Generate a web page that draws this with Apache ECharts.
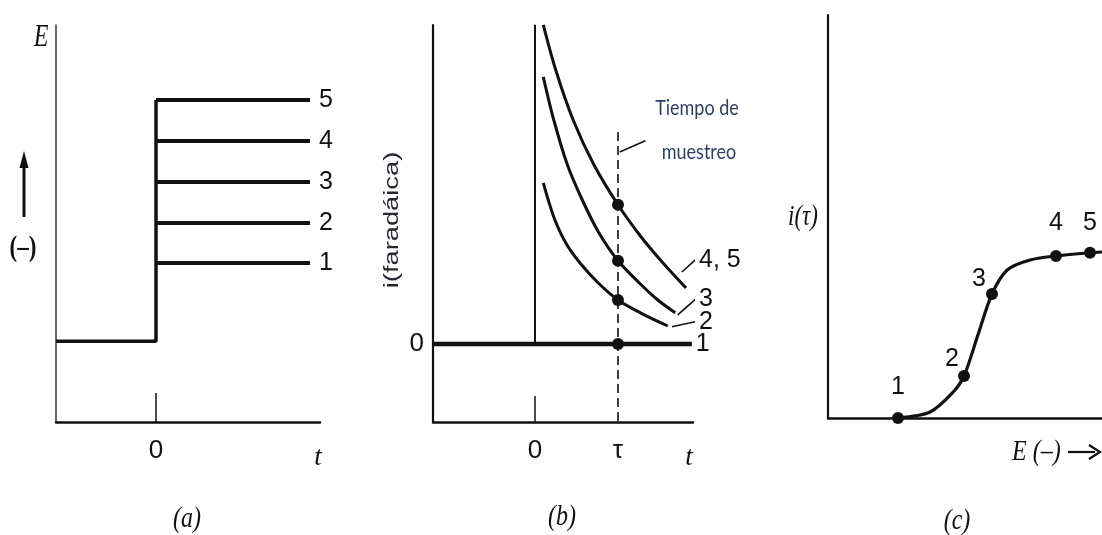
<!DOCTYPE html>
<html><head><meta charset="utf-8">
<script src="https://cdn.jsdelivr.net/npm/echarts@6/dist/echarts.min.js"></script>
<style>html,body{margin:0;padding:0;background:#fff}#c{width:1102px;height:535px}</style>
</head><body><div id="c"></div>
<script>
// ---------- Panel (a): potential steps E vs t ----------
const aStepNames = ['1', '2', '3', '4', '5'];
const aStepLevels = [3.94, 4.93, 5.94, 6.96, 7.97];
const aInitialPotential = 2.0;
const aTimeStart = -1.0;
const aTimeEnd = 1.54;
const aTickValues = [0];
const aTickLabels = ['0'];
const aAxisEndValue = 1.62;
const aAxisEndLabel = 't';

// ---------- Panel (b): faradaic current transients ----------
const bCurve45 = [[0.10, 7.98], [0.25, 6.85], [0.46, 5.60], [0.71, 4.48], [1.00, 3.48], [1.27, 2.70], [1.54, 2.03], [1.82, 1.40]];
const bCurve3  = [[0.10, 6.68], [0.22, 5.65], [0.39, 4.48], [0.57, 3.60], [0.77, 2.78], [1.00, 2.08], [1.27, 1.50], [1.48, 1.10], [1.69, 0.78]];
const bCurve2  = [[0.10, 4.03], [0.16, 3.60], [0.24, 3.10], [0.37, 2.53], [0.54, 2.03], [0.76, 1.53], [1.00, 1.10], [1.27, 0.78], [1.60, 0.45]];
const bCurve1  = [[-1.23, 0], [1.89, 0]];
const bCurveNames = ['4, 5', '3', '2', '1'];
const bSampleTime = 1.0;
const bSampleLabel = 'τ';
const bSampledCurrents = [3.48, 2.08, 1.10, 0];
const bStepTime = 0;
const bTop = 7.98;
const bLeader45 = [[1.77, 1.80], [2.13, 2.48]];
const bLeader3  = [[1.72, 0.73], [2.13, 1.48]];
const bLeader2  = [[1.65, 0.43], [2.13, 0.65]];
const bSampleLeader = [[1.02, 4.80], [1.33, 5.08]];
const bSampleLineRange = [5.30, -1.95];
const bAxisEndValue = 1.855;

// ---------- Panel (c): sampled current vs potential ----------
const cPotential = [1.75, 2.55, 3.13, 3.40, 3.75, 4.10, 4.48, 5.05, 5.70, 6.55, 6.85];
const cCurrent   = [0.00, 0.15, 0.65, 1.05, 2.08, 3.10, 3.70, 3.95, 4.05, 4.13, 4.15];
const cPointLabels = ['1', '2', '3', '4', '5'];
const cPointPotential = [1.75, 3.40, 4.10, 5.70, 6.55];
const cPointCurrent = [0.00, 1.05, 3.10, 4.05, 4.13];

// ---------- styling ----------
const INK = '#111';
const NUM_FONT = "'Liberation Sans Narrow', 'Liberation Sans', Arial, sans-serif";
const SERIF = "'Liberation Serif', 'Times New Roman', serif";
const NUM_SIZE = 25;

function plainLine(data, xi, width, extra) {
  return Object.assign({
    type: 'line', xAxisIndex: xi, yAxisIndex: xi, data: data,
    symbol: 'none', silent: true, animation: false,
    lineStyle: {color: INK, width: width}
  }, extra || {});
}
function endLab(text, dist) {
  return {show: true, formatter: text, distance: dist, color: INK,
          fontFamily: NUM_FONT, fontSize: NUM_SIZE};
}

const series = [];
// Panel a
series.push(plainLine([[aTimeStart, aInitialPotential], [0, aInitialPotential], [0, aStepLevels[aStepLevels.length - 1]]], 0, 3.5));
aStepLevels.forEach((lv, k) => {
  series.push(plainLine([[0, lv], [aTimeEnd, lv]], 0, 4, {name: aStepNames[k], endLabel: endLab(aStepNames[k], 9)}));
});
// Panel b
series.push(plainLine([[bStepTime, 0], [bStepTime, bTop]], 1, 2));
series.push(plainLine(bCurve1, 1, 4.5, {endLabel: endLab(bCurveNames[3], 4)}));
series.push(plainLine(bCurve45, 1, 3, {smooth: 0.3}));
series.push(plainLine(bCurve3, 1, 3, {smooth: 0.3}));
series.push(plainLine(bCurve2, 1, 3, {smooth: 0.3}));
series.push(plainLine([[bSampleTime, bSampleLineRange[0]], [bSampleTime, bSampleLineRange[1]]], 1, 1.6,
  {lineStyle: {color: INK, width: 1.6, type: [9, 5]}, clip: false}));
series.push(plainLine(bLeader45, 1, 1.6, {clip: false, endLabel: endLab(bCurveNames[0], 4)}));
series.push(plainLine(bLeader3, 1, 1.6, {clip: false, endLabel: endLab(bCurveNames[1], 4)}));
series.push(plainLine(bLeader2, 1, 1.6, {clip: false, endLabel: endLab(bCurveNames[2], 4)}));
series.push(plainLine(bSampleLeader, 1, 1.6, {clip: false}));
series.push({
  type: 'scatter', xAxisIndex: 1, yAxisIndex: 1, silent: true, animation: false,
  symbolSize: 12, itemStyle: {color: INK, opacity: 1},
  data: bSampledCurrents.map(v => [bSampleTime, v])
});
// Panel c
series.push(plainLine(cPotential.map((e, k) => [e, cCurrent[k]]), 2, 3.2, {smooth: 0.3}));
const cOffsets = [[0, -7], [-12, 7], [-13, 9], [0, -9], [0, -6]];
series.push({
  type: 'scatter', xAxisIndex: 2, yAxisIndex: 2, silent: true, animation: false,
  symbolSize: 12, itemStyle: {color: INK, opacity: 1},
  label: {show: true, position: 'top', distance: 5, color: INK, fontFamily: NUM_FONT, fontSize: NUM_SIZE},
  data: cPointLabels.map((lab, k) => ({
    value: [cPointPotential[k], cPointCurrent[k]],
    label: {formatter: lab, offset: cOffsets[k]}
  }))
});

const hideAll = {show: false};
const tickRich = {
  n: {fontFamily: NUM_FONT, fontSize: 26, color: INK},
  t: {fontFamily: SERIF, fontStyle: 'italic', fontSize: 27, color: INK, padding: [6, 0, 0, 0]}
};
const option = {
  backgroundColor: '#fff',
  animation: false,
  grid: [
    {left: 56, top: 25, width: 264, height: 397},
    {left: 433, top: 25, width: 260, height: 397},
    {left: 828, top: 15, width: 274, height: 403}
  ],
  xAxis: [
    {type: 'value', gridIndex: 0, min: -1, max: 1.64,
     axisLine: {onZero: false, lineStyle: {color: INK, width: 2.5}},
     axisTick: {show: true, inside: true, length: 29, customValues: aTickValues, lineStyle: {color: INK, width: 1.5}},
     axisLabel: {show: true, customValues: aTickValues.concat([aAxisEndValue]), margin: 16,
       formatter: v => v === aAxisEndValue ? '{t|' + aAxisEndLabel + '}' : '{n|' + aTickLabels[aTickValues.indexOf(v)] + '}',
       rich: tickRich},
     splitLine: hideAll},
    {type: 'value', gridIndex: 1, min: -1.229, max: 1.904,
     axisLine: {onZero: false, lineStyle: {color: INK, width: 2.5}},
     axisTick: {show: true, inside: true, length: 26, customValues: [bStepTime], lineStyle: {color: INK, width: 1.5}},
     axisLabel: {show: true, customValues: [bStepTime, bSampleTime, bAxisEndValue], margin: 16,
       formatter: v => v === bAxisEndValue ? '{t|t}' : (v === bSampleTime ? '{n|' + bSampleLabel + '}' : '{n|0}'),
       rich: tickRich},
     splitLine: hideAll},
    {type: 'value', gridIndex: 2, min: 0, max: 6.85,
     axisLine: {onZero: false, lineStyle: {color: INK, width: 2.5}},
     axisTick: hideAll, axisLabel: hideAll, splitLine: hideAll}
  ],
  yAxis: [
    {type: 'value', gridIndex: 0, min: 0, max: 9.83,
     axisLine: {show: true, onZero: false, lineStyle: {color: '#444', width: 1.6}},
     axisTick: hideAll, axisLabel: hideAll, splitLine: hideAll},
    {type: 'value', gridIndex: 1, min: -1.95, max: 7.975,
     axisLine: {show: true, onZero: false, lineStyle: {color: INK, width: 2.2}},
     axisTick: hideAll,
     axisLabel: {show: true, customValues: [0], formatter: '0', margin: 9, fontFamily: NUM_FONT, fontSize: 26, color: INK},
     splitLine: hideAll},
    {type: 'value', gridIndex: 2, min: 0, max: 10.075,
     axisLine: {show: true, onZero: false, lineStyle: {color: INK, width: 2.2}},
     axisTick: hideAll, axisLabel: hideAll, splitLine: hideAll}
  ],
  graphic: [
    {type: 'text', x: 41, y: 38, scaleY: 1.3, style: {text: 'E', font: 'italic 24px ' + SERIF, fill: INK, align: 'center', verticalAlign: 'middle'}},
    {type: 'line', shape: {x1: 24, y1: 217, x2: 24, y2: 162}, style: {stroke: INK, lineWidth: 3}},
    {type: 'polygon', shape: {points: [[24, 151], [19.5, 168], [28.5, 168]]}, style: {fill: INK}},
    {type: 'text', x: 23, y: 248, scaleY: 1.3, style: {text: '(–)', font: 'bold 23px ' + SERIF, fill: INK, align: 'center', verticalAlign: 'middle'}},
    {type: 'text', x: 187, y: 519, scaleY: 1.25, style: {text: '(a)', font: 'italic 24px ' + SERIF, fill: INK, align: 'center', verticalAlign: 'middle'}},
    {type: 'text', x: 392, y: 220, rotation: Math.PI / 2, scaleX: 1.3, style: {text: 'i(faradáica)', font: '21px "Liberation Sans", Arial, sans-serif', fill: '#2a2630', align: 'center', verticalAlign: 'middle'}},
    {type: 'text', x: 697, y: 108, scaleY: 1.15, style: {text: 'Tiempo de', font: '18px Lato, "Open Sans", sans-serif', fill: '#2f3f63', align: 'center', verticalAlign: 'middle'}},
    {type: 'text', x: 699, y: 152, scaleY: 1.15, style: {text: 'muestreo', font: '18px Lato, "Open Sans", sans-serif', fill: '#2f3f63', align: 'center', verticalAlign: 'middle'}},
    {type: 'text', x: 562, y: 517, scaleY: 1.25, style: {text: '(b)', font: 'italic 24px ' + SERIF, fill: INK, align: 'center', verticalAlign: 'middle'}},
    {type: 'text', x: 803, y: 217, scaleY: 1.25, style: {text: 'i(τ)', font: 'italic 23px ' + SERIF, fill: INK, align: 'center', verticalAlign: 'middle'}},
    {type: 'text', x: 1012, y: 452, scaleY: 1.25, style: {text: 'E (–)', font: 'italic 24px ' + SERIF, fill: INK, align: 'left', verticalAlign: 'middle'}},
    {type: 'line', shape: {x1: 1068, y1: 452, x2: 1095, y2: 452}, style: {stroke: INK, lineWidth: 2.2}},
    {type: 'polyline', shape: {points: [[1089, 445], [1100, 452], [1089, 459]]}, style: {stroke: INK, lineWidth: 2.2, fill: null}},
    {type: 'text', x: 957, y: 521, scaleY: 1.25, style: {text: '(c)', font: 'italic 24px ' + SERIF, fill: INK, align: 'center', verticalAlign: 'middle'}}
  ],
  series: series
};
const chart = echarts.init(document.getElementById('c'), null, {renderer: 'canvas'});
chart.setOption(option);
</script></body></html>
